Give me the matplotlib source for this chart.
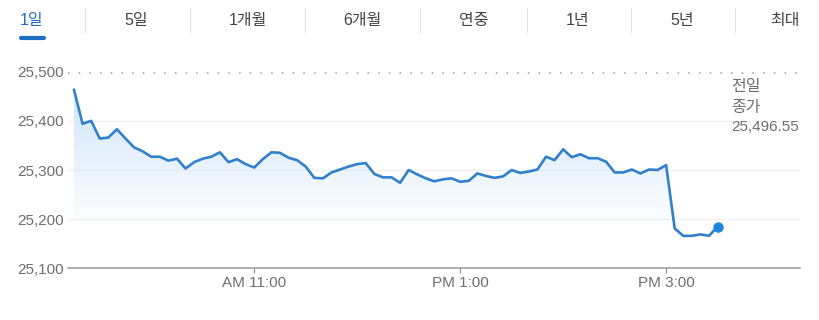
import matplotlib
matplotlib.use("Agg")
import matplotlib.pyplot as plt
import numpy as np

plt.rcParams['font.family'] = ['Liberation Sans', 'Noto Sans CJK KR', 'DejaVu Sans']

# ---- data ----
tabs = ["1일", "5일", "1개월", "6개월", "연중", "1년", "5년", "최대"]
times = ["09:15","09:20","09:25","09:30","09:35","09:40","09:45","09:50","09:55",
         "10:00","10:05","10:10","10:15","10:20","10:25","10:30","10:35","10:40","10:45","10:50","10:55",
         "11:00","11:05","11:10","11:15","11:20","11:25","11:30","11:35","11:40","11:45","11:50","11:55",
         "12:00","12:05","12:10","12:15","12:20","12:25","12:30","12:35","12:40","12:45","12:50","12:55",
         "13:00","13:05","13:10","13:15","13:20","13:25","13:30","13:35","13:40","13:45","13:50","13:55",
         "14:00","14:05","14:10","14:15","14:20","14:25","14:30","14:35","14:40","14:45","14:50","14:55",
         "15:00","15:05","15:10","15:15","15:20","15:25","15:30"]
values = [25463, 25394, 25400, 25364, 25366, 25383, 25364, 25346, 25338,
          25327, 25327, 25319, 25323, 25303, 25316, 25323, 25327, 25336, 25316, 25322, 25312,
          25305, 25322, 25336, 25335, 25325, 25320, 25307, 25284, 25283, 25295, 25301, 25307,
          25312, 25314, 25292, 25285, 25285, 25274, 25300, 25291, 25283, 25277,
          25281, 25283, 25276, 25278, 25293, 25288, 25284, 25287, 25300, 25294, 25297, 25301,
          25327, 25320, 25342, 25326, 25332, 25324, 25324, 25317, 25295, 25295, 25301,
          25293, 25301, 25300, 25310, 25181, 25166, 25166, 25169, 25166, 25185]
prev_close = 25496.55
yticks = [25100, 25200, 25300, 25400, 25500]
ytick_labels = ["25,100", "25,200", "25,300", "25,400", "25,500"]
xticks = ["11:00", "13:00", "15:00"]
xtick_labels = ["AM 11:00", "PM 1:00", "PM 3:00"]

def to_min(s):
    h, m = s.split(":")
    return int(h) * 60 + int(m)

x = np.array([to_min(t) for t in times], dtype=float)
y = np.array(values, dtype=float)

W, H = 819, 320
fig = plt.figure(figsize=(W / 100, H / 100), dpi=100)
fig.patch.set_facecolor("white")

# ---- main axes ----
ax = fig.add_axes([68 / W, 1 - 268.3 / H, (800 - 68) / W, (268.3 - 71.7) / H])
ax.set_xlim(551.5, 978)
ax.set_ylim(25100, 25500)

# gradient fill
poly = ax.fill_between(x, y, 25100, color="none", lw=0)
path = poly.get_paths()[0]
n = 256
alpha = np.clip((np.linspace(25500, 25100, n) - 25180) / (25470 - 25180), 0, 1) * 0.9
img = np.zeros((n, 2, 4))
img[..., 0] = 0.79
img[..., 1] = 0.885
img[..., 2] = 0.98
img[..., 3] = alpha[:, None]
im = ax.imshow(img, extent=[x[0], x[-1], 25100, 25500], aspect="auto", origin="upper", zorder=1)
im.set_clip_path(path, transform=ax.transData)

# grid lines
for v in [25200, 25300, 25400]:
    ax.axhline(v, color="#f0f0f0", lw=0.9, zorder=0)
# previous close dotted line
ax.axhline(prev_close, color="#9a9a9a", lw=1.1, dashes=(1, 6), zorder=2)

ax.plot(x, y, color="#3080cc", lw=1.9, zorder=3, solid_joinstyle="round")
ax.plot(x[-1], y[-1], "o", color="#1e86e0", ms=6.5, mec="#1e86e0", zorder=4)

for s in ["top", "right", "left"]:
    ax.spines[s].set_visible(False)
ax.spines["bottom"].set_color("#999999")
ax.spines["bottom"].set_linewidth(1.1)

ax.set_yticks(yticks)
ax.set_yticklabels(ytick_labels)
ax.tick_params(axis="y", length=0, pad=3, labelsize=11, labelcolor="#6e6e6e")
ax.set_xticks([to_min(t) for t in xticks])
ax.set_xticklabels(xtick_labels)
ax.tick_params(axis="x", length=3.6, width=0.9, color="#999999", pad=2,
               labelsize=11, labelcolor="#6e6e6e")

# ---- overlay (pixel coords) ----
ov = fig.add_axes([0, 0, 1, 1])
ov.set_xlim(0, W)
ov.set_ylim(H, 0)
ov.axis("off")
ov.patch.set_alpha(0)

tab_x = [32, 136.5, 247.5, 362, 473.5, 578, 682.5, 785]
sep_x = [85, 189.5, 305, 420, 526.5, 631, 735]
for i, (t, tx) in enumerate(zip(tabs, tab_x)):
    ov.text(tx, 20.5, t, ha="center", va="center", fontsize=11.5,
            color="#1f6fc5" if i == 0 else "#444444")
for sx in sep_x:
    ov.plot([sx, sx], [8, 32], color="#e2e2e2", lw=0.8)
ov.plot([20.5, 44], [37.5, 37.5], color="#1f6fc5", lw=3.0, solid_capstyle="round")

ov.text(731, 86.7, "전일", ha="left", va="center", fontsize=11.5, color="#6e6e6e")
ov.text(731, 107.7, "종가", ha="left", va="center", fontsize=11.5, color="#6e6e6e")
ov.text(731, 126.7, "25,496.55", ha="left", va="center", fontsize=11, color="#6e6e6e")

fig.savefig("out.png", dpi=100, facecolor="white")
